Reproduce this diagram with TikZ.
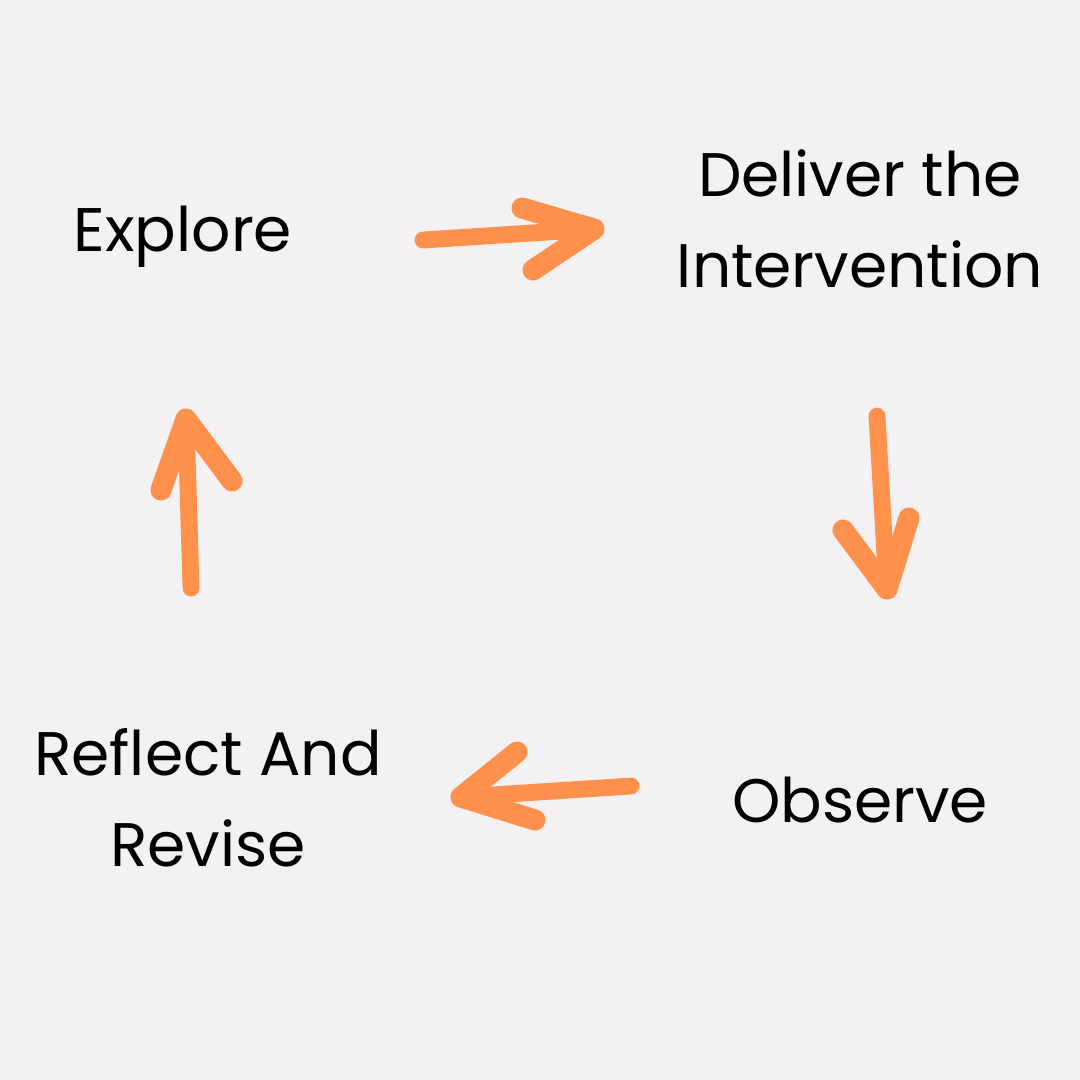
\documentclass[tikz,border=0pt]{standalone}
\usepackage{fontspec}
\setmainfont{Poppins}
\definecolor{bg}{HTML}{F4F1F2}
\definecolor{brushorange}{HTML}{FF914D}
\begin{document}
\begin{tikzpicture}[x=0.1mm,y=-0.1mm,
  label/.style={text=black,font=\fontsize{17.5pt}{26pt}\selectfont,align=center,inner sep=0pt},
  brush/.style={draw=brushorange,line width=4.8pt,line cap=round,line join=round},
  barb/.style={brush,line width=6pt}]
\fill[bg] (0,0) rectangle (1080,1080);
\useasboundingbox (0,0) rectangle (1080,1080);
% labels
\node[label] (explore) at (183,237) {Explore};
\node[label] (deliver) at (860,219) {Deliver the\\Intervention};
\node[label] (observe) at (860,800) {Observe};
\node[label] (reflect) at (208,798) {Reflect And\\Revise};
% arrow coordinates
\coordinate (t1) at (423,240); \coordinate (h1) at (594,229);
\coordinate (b1a) at (522,208); \coordinate (b1b) at (533,270);
\coordinate (t2) at (877,416); \coordinate (h2) at (887,589);
\coordinate (b2a) at (843,530); \coordinate (b2b) at (909,518);
\coordinate (t3) at (631,786); \coordinate (h3) at (461,797);
\coordinate (b3a) at (517,752); \coordinate (b3b) at (535,820);
\coordinate (t4) at (191,588); \coordinate (h4) at (186,419);
\coordinate (b4a) at (161,490); \coordinate (b4b) at (232,481);
% arrows
\draw[brush] (t1) -- (h1); \draw[barb] (b1a) -- (h1) -- (b1b);
\draw[brush] (t2) -- (h2); \draw[barb] (b2a) -- (h2) -- (b2b);
\draw[brush] (t3) -- (h3); \draw[barb] (b3a) -- (h3) -- (b3b);
\draw[brush] (t4) -- (h4); \draw[barb] (b4a) -- (h4) -- (b4b);
\end{tikzpicture}
\end{document}
